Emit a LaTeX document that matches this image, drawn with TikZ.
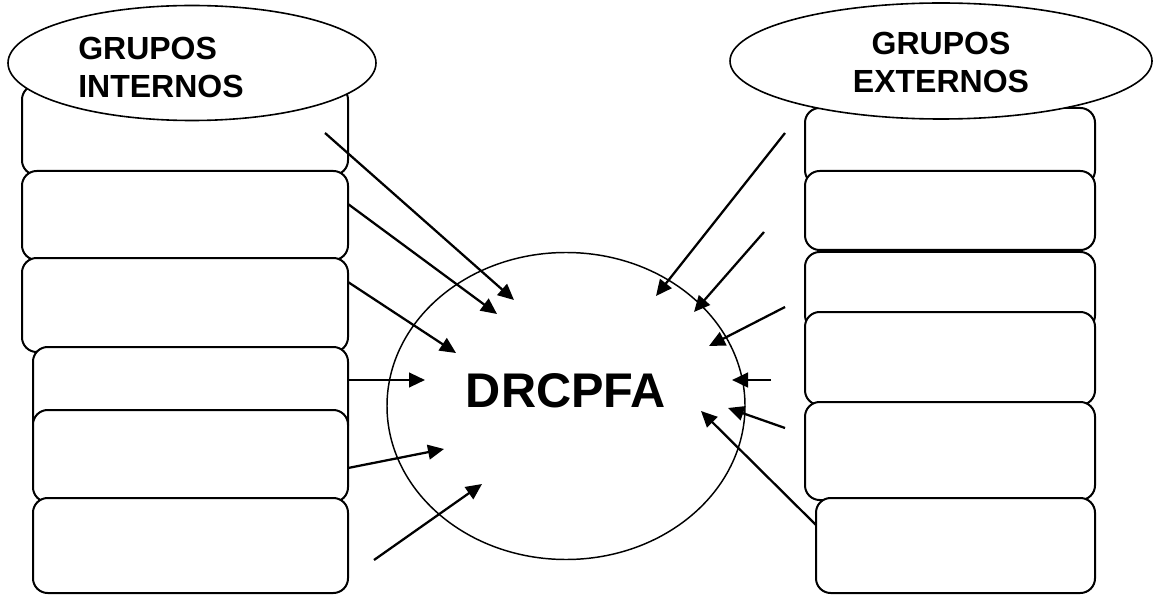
\documentclass[tikz,border=0pt]{standalone}
\usepackage{fontspec}
\setmainfont{Liberation Sans}
\usetikzlibrary{arrows.meta,shapes.geometric}

\begin{document}
\begin{tikzpicture}[x=0.75pt,y=-0.75pt,
  stackbox/.style={draw, fill=white, line width=1.5pt, rounded corners=11pt,
    rectangle, inner sep=0pt},
  groupoval/.style={draw, fill=white, ellipse, line width=1.2pt, inner sep=0pt},
  centeroval/.style={draw, ellipse, line width=1.1pt, inner sep=0pt},
  grouplabel/.style={inner sep=0pt, font=\bfseries\fontsize{24}{28.5}\selectfont},
  arr/.style={line width=1.7pt, -{Triangle[length=12pt,width=11pt]}}]
\useasboundingbox (0,0) rectangle (1159,595);

% left stack of boxes, each one laid over the previous one
\node[stackbox, minimum width=244.5pt, minimum height=67.5pt]  (L1) at (185,130) {};
\node[stackbox, minimum width=244.5pt, minimum height=66.75pt] (L2) at (185,215.5) {};
\node[stackbox, minimum width=244.5pt, minimum height=70.5pt]  (L3) at (185,305) {};
\node[stackbox, minimum width=236.25pt, minimum height=69.75pt] (L4) at (190.5,393.5) {};
\node[stackbox, minimum width=236.25pt, minimum height=69pt]    (L5) at (190.5,456) {};
\node[stackbox, minimum width=236.25pt, minimum height=71.25pt] (L6) at (190.5,545.5) {};

% right stack of boxes
\node[stackbox, minimum width=217.5pt, minimum height=57.75pt] (R1) at (950,146.5) {};
\node[stackbox, minimum width=217.5pt, minimum height=59.25pt] (R2) at (950,210.5) {};
\node[stackbox, minimum width=217.5pt, minimum height=58.5pt]  (R3) at (950,291) {};
\node[stackbox, minimum width=217.5pt, minimum height=69.75pt] (R4) at (950,358.5) {};
\node[stackbox, minimum width=217.5pt, minimum height=73.5pt]  (R5) at (950,451) {};
\node[stackbox, minimum width=209.25pt, minimum height=71.25pt] (R6) at (955.5,545.5) {};

% group headings
\node[groupoval, minimum width=276pt, minimum height=86.25pt] (gi) at (192,63) {};
\node[grouplabel, anchor=north west, align=left] (gitext) at (78,37) {GRUPOS\\INTERNOS};
\node[groupoval, minimum width=316.5pt, minimum height=87pt] (ge) at (941,61) {};
\node[grouplabel, anchor=north, align=center] (getext) at (941,32) {GRUPOS\\EXTERNOS};

% central body
\node[centeroval, minimum width=268.5pt, minimum height=230.25pt] (c) at (566,406) {};
\node[inner sep=0pt, anchor=base, font=\bfseries\fontsize{36.5}{40}\selectfont] (ctext) at (566,407) {DRCPFA};

% arrow ends
\coordinate (a1s) at (325,133); \coordinate (a1e) at (514,300);
\coordinate (a2s) at (348,204); \coordinate (a2e) at (497,314);
\coordinate (a3s) at (348,282); \coordinate (a3e) at (456,353);
\coordinate (a4s) at (348,380); \coordinate (a4e) at (425,380);
\coordinate (a5s) at (348,468); \coordinate (a5e) at (444,449);
\coordinate (a6s) at (374,560); \coordinate (a6e) at (482,484);

\coordinate (b1s) at (785,133); \coordinate (b1e) at (656,296);
\coordinate (b2s) at (764,232); \coordinate (b2e) at (694,312);
\coordinate (b3s) at (785,307); \coordinate (b3e) at (709,346);
\coordinate (b4s) at (771,380); \coordinate (b4e) at (732,380);
\coordinate (b5s) at (785,428); \coordinate (b5e) at (728,408);
\coordinate (b6s) at (816,525); \coordinate (b6e) at (701,411);

\foreach \k in {a1,a2,a3,a4,a5,a6,b1,b2,b3,b4,b5,b6}
  \draw[arr] (\k s) -- (\k e);
\end{tikzpicture}
\end{document}
